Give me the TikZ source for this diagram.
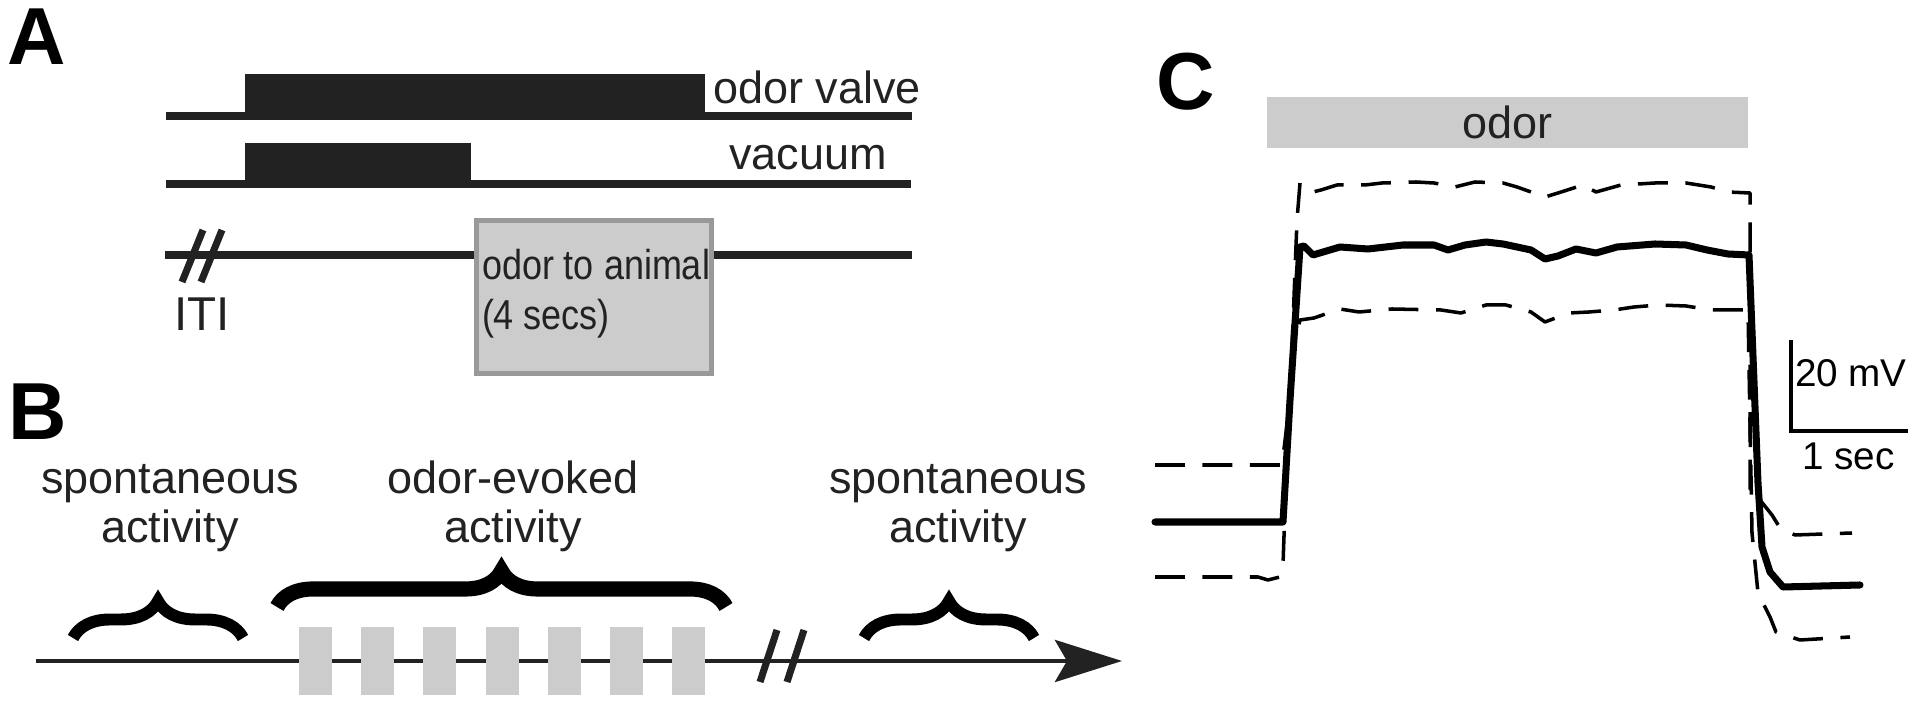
\documentclass[tikz,border=0pt]{standalone}
\usepackage{graphicx}
\usepackage{fontspec}
\setmainfont{Liberation Sans}
\usetikzlibrary{arrows.meta,calc,decorations.pathreplacing,positioning}
\definecolor{ink}{HTML}{222222}
\definecolor{pulsegray}{HTML}{CCCCCC}
\definecolor{rim}{HTML}{999999}

\begin{document}
\begin{tikzpicture}[x=0.01cm,y=-0.01cm]
\useasboundingbox (0,0) rectangle (1920,704);

\tikzstyle{timeline}=[draw=ink,line width=2.3pt]
\tikzstyle{block}=[fill=ink]
\tikzstyle{txt}=[font=\fontsize{12.8}{14.2}\selectfont,text=ink,inner sep=0pt,outer sep=0pt]
\tikzstyle{boxtxt}=[txt,font=\fontsize{11.9}{14}\selectfont]
\tikzstyle{panel}=[font=\fontsize{23}{26}\selectfont\bfseries,inner sep=0pt]
\tikzstyle{breakmark}=[draw=ink,line width=2pt]
\tikzstyle{curly}=[draw=black,decorate,decoration={brace,amplitude=0.37cm}]
\tikzstyle{trace}=[draw=black,line width=2pt,line join=round,line cap=round]
\tikzstyle{band}=[draw=black,line width=1pt,dash pattern=on 8.5pt off 5pt,line join=round]

% PANEL A
\node[panel] (labA) at (36.5,36.5) {A};

% ODOR VALVE
\coordinate (valveL) at (166,116);
\coordinate (valveR) at (912,116);
\fill[block] (245,74) rectangle (705,116);
\draw[timeline] (valveL) -- (valveR);
\node[txt,anchor=base west] (valvetxt) at (713,104) {odor valve};

% VACUUM
\coordinate (vacL) at (166,184);
\coordinate (vacR) at (911,184);
\fill[block] (245,143) rectangle (471,184);
\draw[timeline] (vacL) -- (vacR);
\node[txt,anchor=base west] (vactxt) at (729,170) {vacuum};

% ODOR TO ANIMAL
\node[draw=rim,fill=pulsegray,line width=1.4pt,minimum width=2.35cm,minimum height=1.53cm,inner sep=0pt] (animal) at (594,297) {};
\coordinate (itiL) at (165,255);
\coordinate (itiR) at (912,255);
\draw[timeline] (itiL) -- (itiL -| animal.west);
\draw[timeline] (itiR -| animal.east) -- (itiR);
\node[boxtxt,anchor=base west] (animaltxt) at (482,280) {\scalebox{0.86}[1]{odor to animal}};
\node[boxtxt,anchor=base west] (secstxt) at (482,330) {\scalebox{0.86}[1]{(4 secs)}};

% ITI BREAK
\coordinate (breakA) at (202,256);
\foreach \dx in {0,19}
  \draw[breakmark] ($(breakA)+(\dx,0)+(1,-26)$) -- ($(breakA)+(\dx,0)+(-20,26)$);
\node[txt,font=\fontsize{13.5}{15}\selectfont,anchor=base west] (iti) at (174,331) {ITI};

% PANEL B
\node[panel] (labB) at (37.5,412) {B};

% TIME AXIS
\coordinate (axisL) at (36,661);
\coordinate (axisR) at (1122,661);
\draw[ink,line width=1.4pt,-{Stealth[length=0.67cm,width=0.42cm,inset=0.12cm]}] (axisL) -- (axisR);

% ODOR PULSES
\foreach \i in {0,...,6}
  \fill[pulsegray] (299+62.2*\i,627) rectangle ++(33,68);

% AXIS BREAK
\coordinate (breakB) at (782,656);
\foreach \dx in {0,27}
  \draw[breakmark] ($(breakB)+(\dx,0)+(-5,-26)$) -- ($(breakB)+(\dx,0)+(-22,26)$);

% BRACES
\coordinate (spLa) at (73,638);
\coordinate (spLb) at (243,638);
\coordinate (evA) at (277,607);
\coordinate (evB) at (726,607);
\coordinate (spRa) at (864,638);
\coordinate (spRb) at (1034,638);
\draw[curly,line width=3.4pt] (spLa) -- (spLb);
\draw[curly,line width=4.3pt,decoration={amplitude=0.36cm}] (evA) -- (evB);
\draw[curly,line width=3.4pt] (spRa) -- (spRb);

\node[txt,align=center,anchor=base] (spontL) at (170,543) {spontaneous\\activity};
\node[txt,align=center,anchor=base] (evoked) at (513,543) {odor-evoked\\activity};
\node[txt,align=center,anchor=base] (spontR) at (958,543) {spontaneous\\activity};

% PANEL C
\node[panel] (labC) at (1186,82) {C};
\node[txt,fill=pulsegray,minimum width=4.81cm,minimum height=0.51cm] (odorbar) at (1507.5,122.5) {odor};

% SCALE BAR
\coordinate (sbTop) at (1791,340);
\coordinate (sbCorner) at (1791,431);
\coordinate (sbRight) at (1908,431);
\draw[black,line width=1.4pt] (sbTop) -- (sbCorner) -- (sbRight);
\node[txt,font=\fontsize{11}{13}\selectfont,text=black,anchor=base west] (mV) at (1795,387) {20 mV};
\node[txt,font=\fontsize{11}{13}\selectfont,text=black,anchor=base west] (sec) at (1802,470) {1 sec};

% MEAN TRACE
\draw[trace] (1155,522) -- (1283,522) -- (1290,400) -- (1300,247) -- (1304,246) -- (1313,255)
  -- (1340,247) -- (1368,249) -- (1403,245) -- (1434,245) -- (1448,250) -- (1465,245)
  -- (1486,242) -- (1503,244) -- (1531,250) -- (1545,259) -- (1558,256) -- (1576,249)
  -- (1596,253) -- (1617,247) -- (1655,244) -- (1686,245) -- (1707,250) -- (1728,254)
  -- (1749,255) -- (1758,483) -- (1762,547) -- (1770,572) -- (1783,587) -- (1860,585);

% UPPER BOUND
\draw[band] (1155,465) -- (1282,465) -- (1290,400) -- (1297,220) -- (1300,183) -- (1313,192)
  -- (1321,190) -- (1337,185) -- (1365,185) -- (1382,183) -- (1416,182) -- (1434,183)
  -- (1455,187) -- (1475,182) -- (1503,183) -- (1517,187) -- (1545,197) -- (1558,193)
  -- (1583,185) -- (1596,192) -- (1621,185) -- (1655,183) -- (1686,183) -- (1711,187)
  -- (1728,192) -- (1750,193) -- (1750,495) -- (1760,500) -- (1772,515) -- (1780,528)
  -- (1795,535) -- (1852,533);

% LOWER BOUND
\draw[band] (1155,577) -- (1258,577) -- (1268,580) -- (1280,577) -- (1283,565) -- (1287,450)
  -- (1295,340) -- (1300,320) -- (1314,318) -- (1340,309) -- (1359,312) -- (1392,309)
  -- (1441,310) -- (1461,313) -- (1486,305) -- (1506,305) -- (1531,312) -- (1545,322)
  -- (1569,313) -- (1589,312) -- (1614,310) -- (1634,307) -- (1659,305) -- (1686,306)
  -- (1711,310) -- (1748,310) -- (1752,533) -- (1758,593) -- (1770,617) -- (1776,632)
  -- (1800,640) -- (1850,637);

\end{tikzpicture}
\end{document}
